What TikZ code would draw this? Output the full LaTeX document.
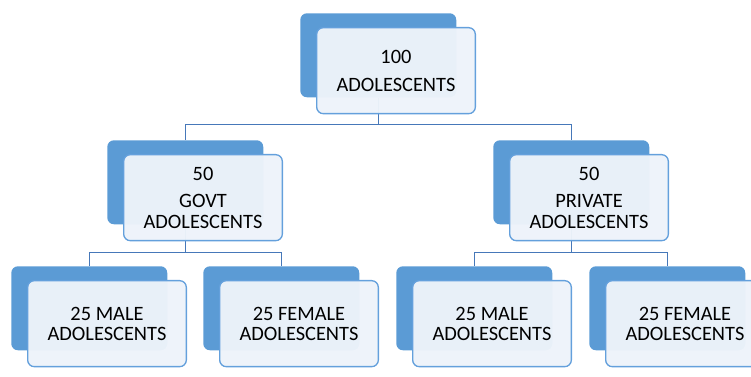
\documentclass[tikz,border=0pt]{standalone}
\usepackage{fontspec}
\setmainfont{Carlito}
\usetikzlibrary{backgrounds}
\definecolor{backblue}{RGB}{91,155,213}
\definecolor{frontfill}{RGB}{237,243,250}
\definecolor{frontline}{RGB}{100,160,220}
\definecolor{linkblue}{RGB}{70,120,185}
\begin{document}
\begin{tikzpicture}[x=0.75pt,y=-0.75pt,
 backbox/.style={draw=none, fill=backblue, rounded corners=5pt, minimum width=117pt, minimum height=63pt, anchor=north west, inner sep=0pt},
 frontbox/.style={draw=frontline, line width=1pt, fill=frontfill, fill opacity=0.97, text opacity=1, rounded corners=5pt, minimum width=119pt, minimum height=64.5pt, anchor=north west, inner sep=0pt, align=center, font=\fontsize{15.3}{15.3}\selectfont},
 link/.style={draw=linkblue, line width=1.1pt}]
\useasboundingbox (0,0) rectangle (751,377);
\clip (0,0) rectangle (751,377);
% back boxes
\node[backbox] (top) at (300,13) {};
\node[backbox] (govt) at (107,140) {};
\node[backbox] (priv) at (493,140) {};
\node[backbox] (gm) at (11,266) {};
\node[backbox] (gf) at (203,266) {};
\node[backbox] (pm) at (396,266) {};
\node[backbox] (pf) at (589,266) {};
% front boxes
\node[frontbox] (topf) at (316,27) {100\\[5.5pt]ADOLESCENTS};
\node[frontbox] (govtf) at (123,154) {50\\[5.5pt]GOVT\\ADOLESCENTS};
\node[frontbox] (privf) at (509,154) {50\\[5.5pt]PRIVATE\\ADOLESCENTS};
\node[frontbox] (gmf) at (27,280) {25 MALE\\ADOLESCENTS};
\node[frontbox] (gff) at (219,280) {25 FEMALE\\ADOLESCENTS};
\node[frontbox] (pmf) at (412,280) {25 MALE\\ADOLESCENTS};
\node[frontbox] (pff) at (605,280) {25 FEMALE\\ADOLESCENTS};
% connectors
\begin{scope}[on background layer]
\draw[link] (top.south) -- ++(0,27) -| (govt.north);
\draw[link] (top.south) -- ++(0,27) -| (priv.north);
\draw[link] (govt.south) -- ++(0,28) -| (gm.north);
\draw[link] (govt.south) -- ++(0,28) -| (gf.north);
\draw[link] (priv.south) -- ++(0,28) -| (pm.north);
\draw[link] (priv.south) -- ++(0,28) -| (pf.north);
\end{scope}
\end{tikzpicture}
\end{document}
